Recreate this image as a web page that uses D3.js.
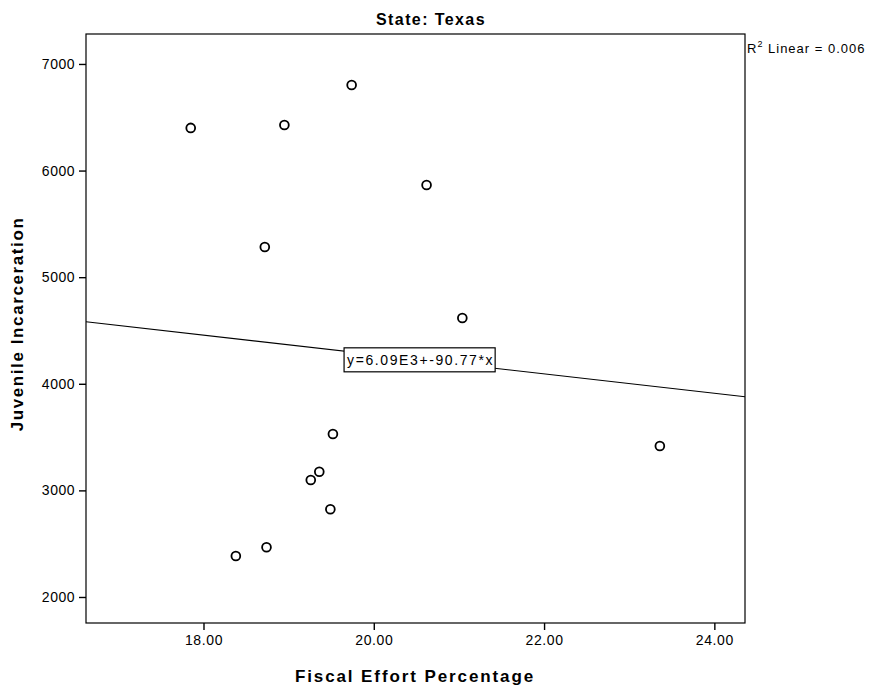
<!DOCTYPE html>
<html>
<head>
<meta charset="utf-8">
<script src="https://cdn.jsdelivr.net/npm/d3@7"></script>
<style>
  html, body { margin: 0; padding: 0; background: #fff; }
  svg text { font-family: "Liberation Sans", Arial, sans-serif; fill: #000; }
</style>
</head>
<body>
<svg id="chart" width="870" height="689"></svg>
<script>
// Fiscal effort (%) vs juvenile incarceration, Texas
const fiscalEffort = [17.85, 18.95, 19.74, 18.72, 20.62, 21.04, 19.52, 23.36, 19.36, 19.26, 19.49, 18.74, 18.38];
const incarceration = [6400, 6428, 6803, 5283, 5865, 4617, 3529, 3417, 3175, 3098, 2823, 2466, 2385];

const xTicks = [18, 20, 22, 24];
const yTicks = [2000, 3000, 4000, 5000, 6000, 7000];

// Linear fit shown on the chart
const fitIntercept = 6090;
const fitSlope = -90.77;
const fitLabel = "y=6.09E3+-90.77*x";
const fitLabelAt = 20.55;
const rSquared = "0.006";

const svg = d3.select("#chart");
const plot = { left: 86, right: 745, top: 34, bottom: 623 };

const x = d3.scaleLinear().domain([16.62, 24.36]).range([plot.left, plot.right]);
const y = d3.scaleLinear().domain([1756, 7281]).range([plot.bottom, plot.top]);

// frame
svg.append("rect")
  .attr("x", plot.left).attr("y", plot.top)
  .attr("width", plot.right - plot.left).attr("height", plot.bottom - plot.top)
  .attr("fill", "none").attr("stroke", "#000").attr("stroke-width", 1.2);

// axes
const xAxis = d3.axisBottom(x).tickValues(xTicks).tickFormat(d3.format(".2f"))
  .tickSize(7).tickPadding(5);
const gx = svg.append("g").attr("transform", `translate(0,${plot.bottom})`).call(xAxis);
gx.select(".domain").remove();
gx.selectAll("line").attr("stroke-width", 1.4);
gx.selectAll("text").style("font-size", "14px").attr("letter-spacing", "0.6px");

const yAxis = d3.axisLeft(y).tickValues(yTicks).tickFormat(d3.format("d"))
  .tickSize(7).tickPadding(4);
const gy = svg.append("g").attr("transform", `translate(${plot.left},0)`).call(yAxis);
gy.select(".domain").remove();
gy.selectAll("line").attr("stroke-width", 1.4);
gy.selectAll("text").style("font-size", "14px").attr("letter-spacing", "0.5px");

// regression line across the plot
const xd = x.domain();
svg.append("line")
  .attr("x1", x(xd[0])).attr("y1", y(fitIntercept + fitSlope * xd[0]))
  .attr("x2", x(xd[1])).attr("y2", y(fitIntercept + fitSlope * xd[1]))
  .attr("stroke", "#000").attr("stroke-width", 1.1);

// equation label box on the line
const lx = x(fitLabelAt), ly = y(fitIntercept + fitSlope * fitLabelAt);
const eq = svg.append("g");
const eqText = eq.append("text")
  .attr("x", lx).attr("y", ly + 5)
  .attr("text-anchor", "middle")
  .style("font-size", "14px")
  .attr("letter-spacing", "1.6px")
  .text(fitLabel);
const bb = eqText.node().getBBox();
eq.insert("rect", "text")
  .attr("x", bb.x - 3).attr("y", ly - 12)
  .attr("width", bb.width + 4).attr("height", 24)
  .attr("fill", "#fff").attr("stroke", "#000").attr("stroke-width", 1.2);

// points
svg.append("g").selectAll("circle")
  .data(fiscalEffort.map((v, i) => [v, incarceration[i]]))
  .join("circle")
  .attr("cx", d => x(d[0])).attr("cy", d => y(d[1]))
  .attr("r", 4.4)
  .attr("fill", "#fff").attr("stroke", "#000").attr("stroke-width", 1.8);

// title
svg.append("text")
  .attr("x", 431).attr("y", 25)
  .attr("text-anchor", "middle")
  .style("font-size", "16px").style("font-weight", "bold")
  .attr("letter-spacing", "1.4px")
  .text("State: Texas");

// R squared note
const r2 = svg.append("text").attr("x", 747).attr("y", 53)
  .style("font-size", "13px").attr("letter-spacing", "1px");
r2.append("tspan").text("R");
r2.append("tspan").attr("dy", -6).style("font-size", "9px").text("2");
r2.append("tspan").attr("dy", 6).text(" Linear = " + rSquared);

// axis titles
svg.append("text")
  .attr("x", 415).attr("y", 682)
  .attr("text-anchor", "middle")
  .style("font-size", "17px").style("font-weight", "bold")
  .attr("letter-spacing", "1.9px")
  .text("Fiscal Effort Percentage");

svg.append("text")
  .attr("transform", "translate(23,324) rotate(-90)")
  .attr("text-anchor", "middle")
  .style("font-size", "17px").style("font-weight", "bold")
  .attr("letter-spacing", "1.6px")
  .text("Juvenile Incarceration");
</script>
</body>
</html>
